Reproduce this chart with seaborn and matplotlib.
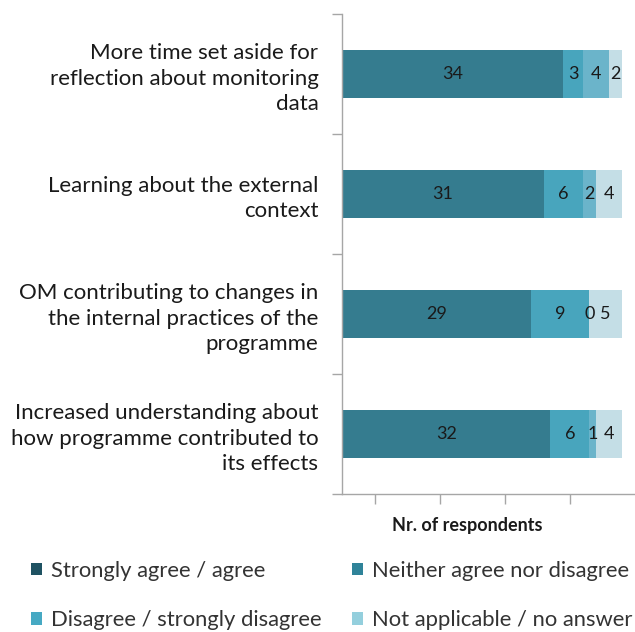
import matplotlib
matplotlib.use("Agg")
import matplotlib.pyplot as plt
from matplotlib.patches import Patch
import numpy as np
import pandas as pd
import seaborn as sns

# Survey items (top to bottom) and response counts per answer group
items = [
    "More time set aside for\nreflection about monitoring\ndata",
    "Learning about the external\ncontext",
    "OM contributing to changes in\nthe internal practices of the\nprogramme",
    "Increased understanding about\nhow programme contributed to\nits effects",
]
groups = [
    "Strongly agree / agree",
    "Neither agree nor disagree",
    "Disagree / strongly disagree",
    "Not applicable / no answer",
]
agree = [34, 31, 29, 32]
neither = [3, 6, 9, 6]
disagree = [4, 2, 0, 1]
not_applicable = [2, 4, 5, 4]

bar_colors = ["#357C8F", "#48A5BD", "#6BB4CA", "#C4DEE6"]
legend_colors = ["#1F5262", "#2F8399", "#46A9C3", "#94CFDD"]

sns.set_theme(style="white")
plt.rcParams["font.family"] = ["Lato", "DejaVu Sans"]

W, H = 635, 632
counts = np.array([agree, neither, disagree, not_applicable], dtype=float)
cum = np.cumsum(counts, axis=0)

fig = plt.figure(figsize=(W / 100, H / 100), dpi=100)
ax = fig.add_axes([342 / W, 1 - 494 / H, 1 - 342 / W, (494 - 14) / H])

# Stacked bars: draw cumulative totals from the outermost layer inwards
for k in range(len(groups) - 1, -1, -1):
    df = pd.DataFrame({"item": items, "value": cum[k]})
    sns.barplot(data=df, x="value", y="item", orient="h", color=bar_colors[k],
                width=0.4, saturation=1, ax=ax, edgecolor="none")

# Value labels centred in each segment
for k in range(len(groups)):
    for i in range(len(items)):
        centre = cum[k, i] - counts[k, i] / 2
        ax.text(centre, i, f"{int(counts[k, i])}", ha="center", va="center",
                fontsize=13, color="#1A1A1A")

ax.set_xlim(0, 45)
ax.set_ylim(3.5, -0.5)
ax.set_xticks([5, 15, 25, 35])
ax.set_xticklabels([])
ax.set_xlabel("Nr. of respondents", fontsize=13, fontweight="bold",
              color="#1A1A1A")
ax.xaxis.set_label_coords((467 - 342) / 293, (494 - 525) / 480)
ax.xaxis.label.set_va("center")
ax.set_ylabel("")

ax.set_yticks(range(len(items)))
ax.set_yticklabels(items, fontsize=16, color="#1A1A1A", ha="right",
                   linespacing=1.33)
ax.set_yticks([-0.5, 0.5, 1.5, 2.5, 3.5], minor=True)
ax.tick_params(axis="y", which="major", length=0, pad=17)
ax.tick_params(axis="y", which="minor", length=7, width=1, color="#A6A6A6",
               left=True, direction="out")
ax.tick_params(axis="x", which="major", length=7, width=1, color="#A6A6A6",
               bottom=True, direction="out")

for side in ["top", "right"]:
    ax.spines[side].set_visible(False)
for side in ["left", "bottom"]:
    ax.spines[side].set_color("#A6A6A6")
    ax.spines[side].set_linewidth(1)

# Legend laid out as two columns of two entries
handles = [Patch(facecolor=c, edgecolor="none") for c in legend_colors]
columns = [([0, 2], 31), ([1, 3], 352)]
for idx, xpx in columns:
    fig.legend([handles[i] for i in idx], [groups[i] for i in idx],
               loc="center left", bbox_to_anchor=(xpx / W, 1 - 595.5 / H),
               ncol=1, frameon=False, fontsize=15.8, handlelength=0.5,
               handleheight=0.5, handletextpad=0.4, labelspacing=1.35,
               borderpad=0, borderaxespad=0, labelcolor="#333333")

fig.savefig("out.png", dpi=100)
